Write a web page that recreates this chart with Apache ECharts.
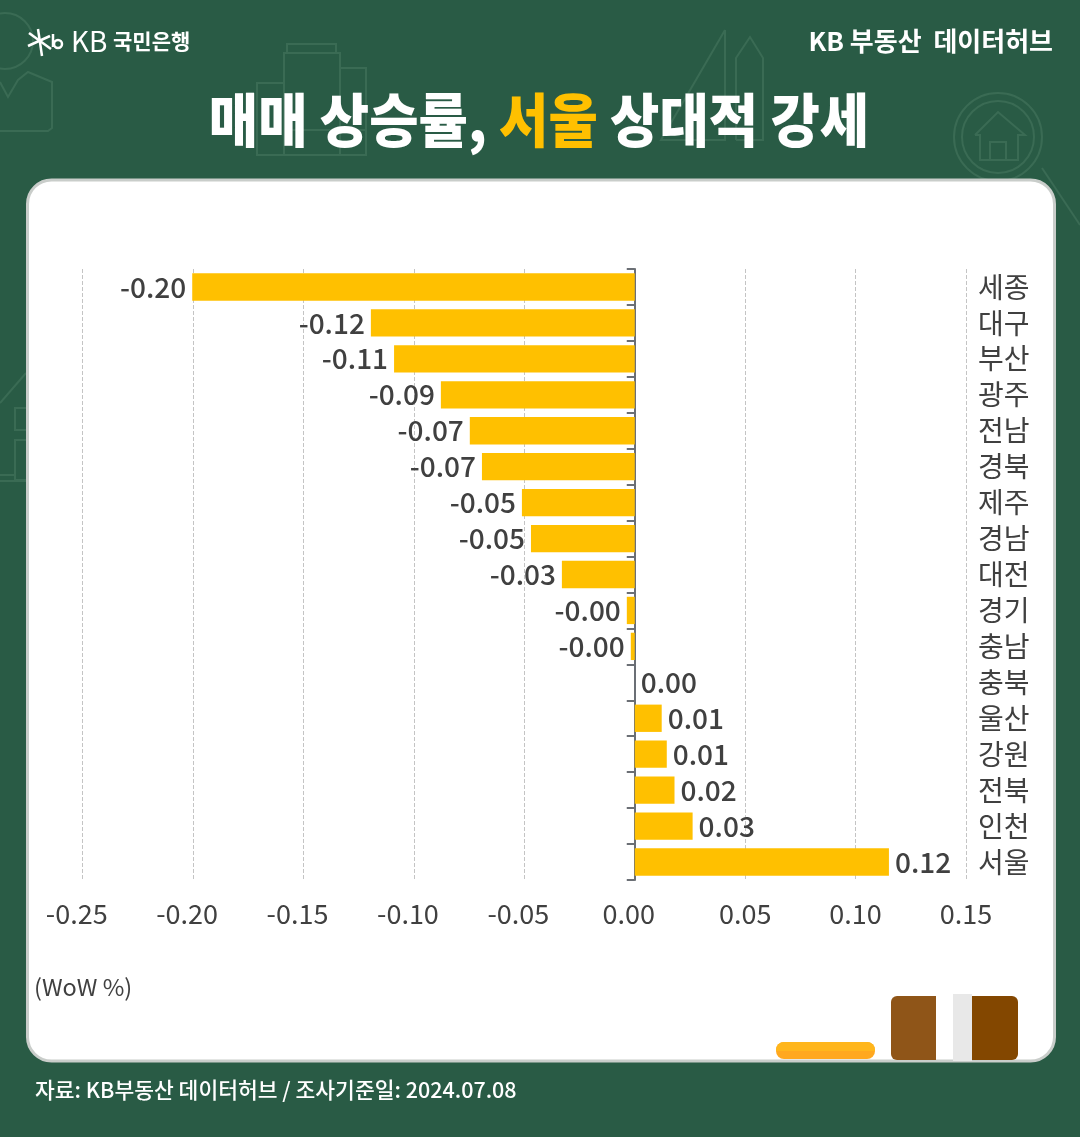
<!DOCTYPE html>
<html>
<head>
<meta charset="utf-8">
<style>
html, body { margin: 0; padding: 0; background: #295b45; }
#chart { width: 1080px; height: 1137px; }
</style>
<script src="https://cdn.jsdelivr.net/npm/echarts@6/dist/echarts.min.js"></script>
</head>
<body>
<div id="chart"></div>
<script>
// 데이터
const categories = ['세종', '대구', '부산', '광주', '전남', '경북', '제주', '경남', '대전', '경기', '충남', '충북', '울산', '강원', '전북', '인천', '서울']
const values = [-0.2004, -0.1195, -0.109, -0.0878, -0.0747, -0.0692, -0.0511, -0.047, -0.033, -0.0036, -0.0018, 0, 0.0122, 0.0145, 0.018, 0.0262, 0.1151]
const xMin = -0.25
const xMax = 0.15
const xStep = 0.05

const FONT = '"Noto Sans CJK KR", "Noto Sans", sans-serif'
const DECO = '#3a6b54'

function line(points) {
  return { type: 'polyline', z: -10, shape: { points: points }, style: { stroke: DECO, fill: null, lineWidth: 2 } }
}
function box(x, y, width, height, r) {
  return { type: 'rect', z: -10, shape: { x: x, y: y, width: width, height: height, r: r || 0 }, style: { stroke: DECO, fill: null, lineWidth: 2 } }
}
function ring(cx, cy, r) {
  return { type: 'circle', z: -10, shape: { cx: cx, cy: cy, r: r }, style: { stroke: DECO, fill: null, lineWidth: 2 } }
}
function solid(x, y, width, height, color, r) {
  return { type: 'rect', z: 1, shape: { x: x, y: y, width: width, height: height, r: r || 0 }, style: { fill: color } }
}
function label(x, y, text, font, fill, align) {
  return { type: 'text', z: 5, x: x, y: y, style: { text: text, font: font, fill: fill, align: align || 'left', verticalAlign: 'middle' } }
}

// 배경 장식
const decoration = [
  ring(5, 41, 28),
  line([[0, 82], [8, 97], [18, 80], [28, 72], [52, 82], [52, 128], [48, 131], [0, 131]]),
  box(284, 53, 56, 102), box(287, 44, 49, 9), box(257, 83, 27, 72), box(340, 68, 26, 87),
  line([[284, 130], [366, 130]]),
  line([[725, 30], [725, 140], [661, 140], [725, 30]]),
  line([[736, 140], [736, 58], [750, 37], [763, 58], [763, 140], [736, 140]]),
  ring(998, 137, 44), ring(998, 137, 36),
  line([[1042, 168], [1080, 225]]),
  line([[975, 135], [998, 112], [1025, 135], [1018, 135], [1018, 160], [980, 160], [980, 135], [975, 135]]),
  box(990, 142, 16, 18),
  line([[0, 403], [26, 373]]),
  line([[0, 475], [15, 475]]),
  line([[0, 481], [27, 481]]),
  box(15, 408, 12, 22), box(15, 440, 12, 40)
]

// KB 로고
const logo = [
  line([[29, 33], [51, 49]]), line([[28, 46], [50, 36]]), line([[38, 29], [42, 56]]),
  line([[53, 34], [53, 47]])
].concat([ring(58, 44, 4)]).map(function (item) {
  item.z = 5
  item.style = { stroke: '#ffffff', fill: null, lineWidth: 2.5 }
  return item
})

const titleText = {
  type: 'text', z: 5, x: 539, y: 120, scaleX: 0.925,
  style: {
    text: '{w|매매 상승률, }{y|서울}{w| 상대적 강세}',
    align: 'center', verticalAlign: 'middle',
    rich: {
      w: { font: '900 58px ' + FONT, fill: '#ffffff' },
      y: { font: '900 58px ' + FONT, fill: '#ffc000' }
    }
  }
}

const graphics = decoration.concat(logo, [
  { type: 'rect', z: -5, shape: { x: 27.5, y: 180, width: 1027, height: 881, r: 24 }, style: { fill: '#ffffff', stroke: '#c9cdca', lineWidth: 3 } },
  solid(776, 1042, 99, 17, '#ffa81f', 8),
  solid(776, 1042, 99, 9, '#ffb61c', [8, 8, 0, 0]),
  solid(891, 996, 45, 64, '#8f5518', [6, 0, 0, 6]),
  solid(972, 996, 46, 64, '#834700', [0, 6, 6, 0]),
  solid(953, 994, 19, 67, '#e8e8e8'),
  label(71, 41, 'KB', '400 28px ' + FONT, '#ffffff'),
  label(113, 41, '국민은행', '700 21px ' + FONT, '#ffffff'),
  label(1053, 41, 'KB 부동산  데이터허브', '700 26px ' + FONT, '#ffffff', 'right'),
  titleText,
  label(34, 987, '(WoW %)', '400 23.5px ' + FONT, '#404040'),
  label(35, 1090, '자료: KB부동산 데이터허브 / 조사기준일: 2024.07.08', '500 21.5px ' + FONT, '#ffffff')
])

const myChart = echarts.init(document.getElementById('chart'))

let option = {
  backgroundColor: '#295b45',
  animation: false,
  textStyle: { fontFamily: FONT },
  graphic: { elements: graphics },
  grid: { left: 82.7, right: 114, top: 269, bottom: 257, containLabel: false },
  xAxis: {
    type: 'value',
    min: xMin,
    max: xMax,
    interval: xStep,
    axisLine: { show: false },
    axisTick: { show: false },
    axisLabel: {
      color: '#404040',
      fontSize: 27,
      margin: 20,
      // 0 이하 눈금은 원본처럼 왼쪽으로 살짝 치우침
      formatter: function (v) {
        return v > 0.001 ? v.toFixed(2) : '{n|' + v.toFixed(2) + '}'
      },
      rich: {
        n: { color: '#404040', fontSize: 27, padding: [0, 12, 0, 0] }
      }
    },
    splitLine: { show: true, lineStyle: { color: '#c4c4c4', type: 'dashed', width: 1 } }
  },
  yAxis: [
    {
      type: 'category',
      data: categories,
      inverse: true,
      axisLine: { show: true, onZero: true, lineStyle: { color: '#6b6f75', width: 2 } },
      axisTick: { show: true, inside: false, length: 8, interval: 0, lineStyle: { color: '#6b6f75', width: 2 } },
      axisLabel: { show: false },
      splitLine: { show: false }
    },
    {
      type: 'category',
      data: categories,
      inverse: true,
      position: 'right',
      axisLine: { show: false, onZero: false },
      axisTick: { show: false },
      axisLabel: { color: '#404040', fontSize: 28, margin: 12, interval: 0 },
      splitLine: { show: false }
    }
  ],
  series: [
    {
      type: 'bar',
      data: values,
      barCategoryGap: '24%',
      itemStyle: { color: '#ffc000' },
      label: {
        show: true,
        position: 'outside',
        distance: 6,
        color: '#404040',
        fontSize: 28,
        fontWeight: 500,
        formatter: function (p) { return p.value.toFixed(2) }
      }
    }
  ]
}
myChart.setOption(option)

window.addEventListener('resize', function () {
  myChart.resize()
})
</script>
</body>
</html>
